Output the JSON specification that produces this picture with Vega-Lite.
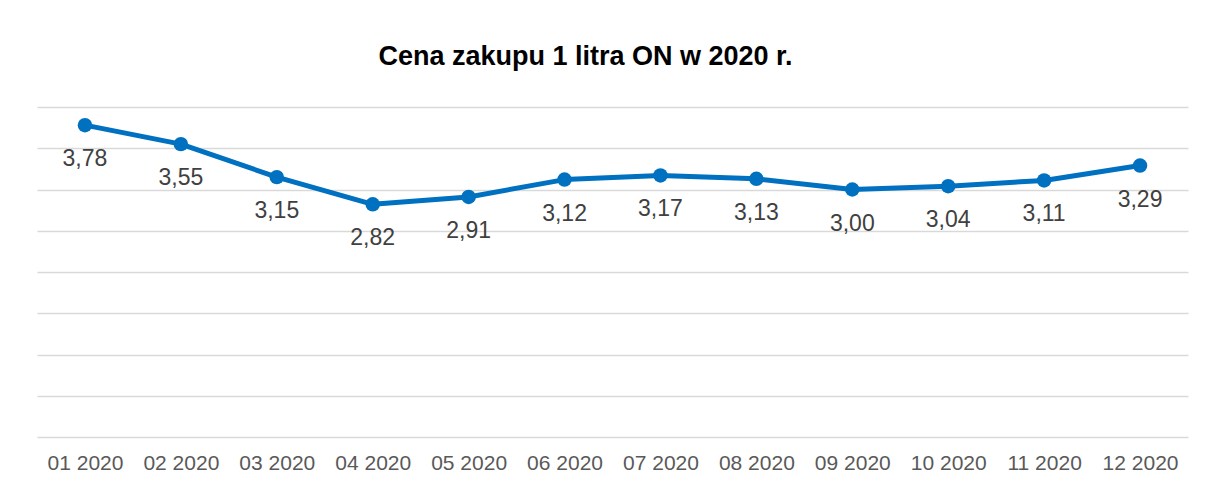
{
  "$schema": "https://vega.github.io/schema/vega-lite/v6.json",
  "autosize": {"type": "none"},
  "width": 1151,
  "height": 330,
  "padding": {"left": 37, "top": 107, "right": 18, "bottom": 46},
  "background": "#ffffff",
  "config": {
    "view": {"stroke": null},
    "font": "Liberation Sans",
    "locale": {"number": {"decimal": ",", "thousands": " ", "grouping": [3], "currency": ["", " zł"]}}
  },
  "title": {
    "text": "Cena zakupu 1 litra ON w 2020 r.",
    "font": "Liberation Sans",
    "fontSize": 27,
    "fontWeight": "bold",
    "color": "#000000",
    "anchor": "middle",
    "dx": -27,
    "offset": 36
  },
  "data": {
    "values": [
      {"miesiac": "01 2020", "cena": 3.78},
      {"miesiac": "02 2020", "cena": 3.55},
      {"miesiac": "03 2020", "cena": 3.15},
      {"miesiac": "04 2020", "cena": 2.82},
      {"miesiac": "05 2020", "cena": 2.91},
      {"miesiac": "06 2020", "cena": 3.12},
      {"miesiac": "07 2020", "cena": 3.17},
      {"miesiac": "08 2020", "cena": 3.13},
      {"miesiac": "09 2020", "cena": 3.00},
      {"miesiac": "10 2020", "cena": 3.04},
      {"miesiac": "11 2020", "cena": 3.11},
      {"miesiac": "12 2020", "cena": 3.29}
    ]
  },
  "encoding": {
    "x": {
      "field": "miesiac",
      "type": "ordinal",
      "sort": null,
      "scale": {"type": "point", "padding": 0.5},
      "axis": {
        "title": null,
        "domain": false,
        "ticks": false,
        "labelAngle": 0,
        "labelFontSize": 21,
        "labelColor": "#595959",
        "labelPadding": 15,
        "grid": false
      }
    },
    "y": {
      "field": "cena",
      "type": "quantitative",
      "scale": {"domain": [0, 4], "nice": false, "zero": true},
      "axis": {
        "title": null,
        "labels": false,
        "ticks": false,
        "domain": false,
        "grid": true,
        "gridColor": "#d9d9d9",
        "gridWidth": 1.3,
        "values": [0, 0.5, 1, 1.5, 2, 2.5, 3, 3.5, 4]
      }
    }
  },
  "layer": [
    {
      "mark": {"type": "line", "color": "#0070C0", "strokeWidth": 5, "strokeJoin": "round", "strokeCap": "round"}
    },
    {
      "mark": {"type": "point", "filled": true, "color": "#0070C0", "opacity": 1, "size": 210}
    },
    {
      "mark": {"type": "text", "baseline": "middle", "align": "center", "dy": 34, "fontSize": 23, "color": "#404040"},
      "encoding": {"text": {"field": "cena", "type": "quantitative", "format": ".2f"}}
    }
  ]
}
